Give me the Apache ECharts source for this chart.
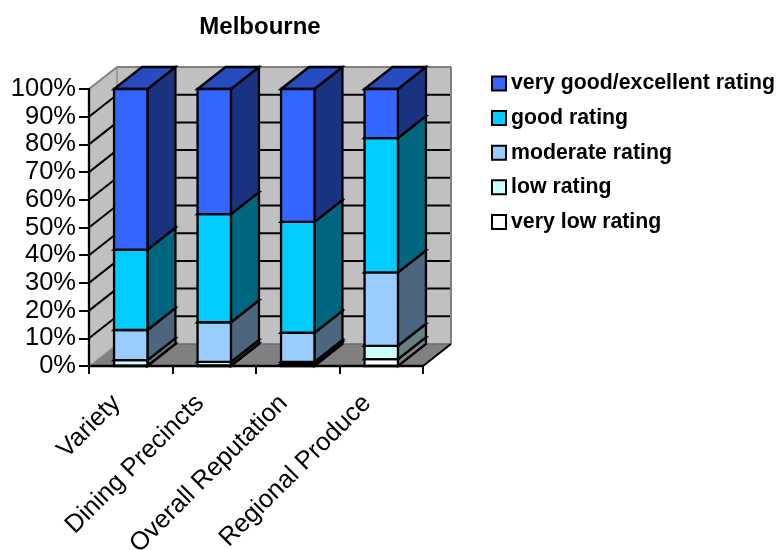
<!DOCTYPE html>
<html>
<head>
<meta charset="utf-8">
<style>html,body{margin:0;padding:0;background:#fff}#chart{width:777px;height:550px}</style>
<script src="https://cdn.jsdelivr.net/npm/echarts@6/dist/echarts.min.js"></script>
</head>
<body>
<div id="chart"></div>
<script>
// Share of ratings per food-and-wine attribute, in percent.
const categories = ['Variety', 'Dining Precincts', 'Overall Reputation', 'Regional Produce'];
const veryLow = [0.1, 0.2, 0.8, 2.5];
const low = [2.0, 1.3, 0.7, 4.8];
const moderate = [10.9, 14.3, 10.5, 26.5];
const good = [29, 39, 40, 48.5];
const veryGood = [58, 45.2, 48, 17.7];
const yTicks = [0, 10, 20, 30, 40, 50, 60, 70, 80, 90, 100];

// Oblique depth of the box, in pixels.
const DEPTH_X = 28;
const DEPTH_Y = -22;
const BAR_WIDTH = 0.4;
const EDGE = 2.3;

const ratings = [
  { name: 'very low rating', values: veryLow, front: '#FFFFFF', side: '#808080', top: '#BFBFBF' },
  { name: 'low rating', values: low, front: '#CCFFFF', side: '#668080', top: '#99BFBF' },
  { name: 'moderate rating', values: moderate, front: '#99CCFF', side: '#4D6680', top: '#7399BF' },
  { name: 'good rating', values: good, front: '#00CCFF', side: '#006680', top: '#0099BF' },
  { name: 'very good/excellent rating', values: veryGood, front: '#3366FF', side: '#1A3380', top: '#264CBF' }
];

function poly(points, fill, stroke, width) {
  return {
    type: 'polygon',
    shape: { points },
    style: { fill, stroke: stroke || 'none', lineWidth: width || 0, lineJoin: 'miter' }
  };
}
function line(a, b, stroke, width) {
  return {
    type: 'line',
    shape: { x1: a[0], y1: a[1], x2: b[0], y2: b[1] },
    style: { stroke, lineWidth: width }
  };
}

// Back wall, side wall, floor and their gridlines.
function renderBox(params, api) {
  const g = params.coordSys;
  const L = g.x, R = g.x + g.width;
  const y0 = api.coord([0, 0])[1], y1 = api.coord([0, 100])[1];
  const bx = DEPTH_X, by = DEPTH_Y;
  const kids = [
    poly([[L, y1], [L + bx, y1 + by], [L + bx, y0 + by], [L, y0]], '#C0C0C0'),
    poly([[L + bx, y1 + by], [R + bx, y1 + by], [R + bx, y0 + by], [L + bx, y0 + by]], '#C0C0C0'),
    poly([[L, y0], [L + bx, y0 + by], [R + bx, y0 + by], [R, y0]], '#808080')
  ];
  yTicks.forEach(function (t) {
    const y = api.coord([0, t])[1];
    if (t === 0 || t === 100) return;
    kids.push(line([L, y], [L + bx, y + by], '#000', 2));
    kids.push(line([L + bx, y + by], [R + bx, y + by], '#000', 2));
  });
  kids.push(line([L, y1], [L + bx, y1 + by], '#808080', 2));
  kids.push(line([L + bx, y1 + by], [R + bx, y1 + by], '#808080', 2));
  kids.push(line([L + bx, y1 + by], [L + bx, y0 + by], '#808080', 1.2));
  kids.push(line([R + bx, y1 + by], [R + bx, y0 + by], '#808080', 2));
  kids.push(line([L + bx, y0 + by], [R + bx, y0 + by], '#6a6a6a', 1.5));
  kids.push(line([L, y0], [L + bx, y0 + by], '#9a9a9a', 1));
  kids.push(line([R, y0], [R + bx, y0 + by], '#000', 2));
  return { type: 'group', children: kids };
}

// One stacked block: front face, right side and top.
function blockRenderer(rating) {
  return function (params, api) {
    const bw = api.size([1, 0])[0] * BAR_WIDTH;
    const c0 = api.coord([api.value(0), api.value(1)]);
    const c1 = api.coord([api.value(0), api.value(2)]);
    const xl = c0[0] - bw / 2, xr = c0[0] + bw / 2;
    const yb = c0[1], yt = c1[1];
    const stroke = '#000';
    return {
      type: 'group',
      children: [
        poly([[xr, yb], [xr + DEPTH_X, yb + DEPTH_Y], [xr + DEPTH_X, yt + DEPTH_Y], [xr, yt]], rating.side, stroke, EDGE),
        poly([[xl, yt], [xl + DEPTH_X, yt + DEPTH_Y], [xr + DEPTH_X, yt + DEPTH_Y], [xr, yt]], rating.top, stroke, EDGE),
        poly([[xl, yb], [xr, yb], [xr, yt], [xl, yt]], rating.front, stroke, EDGE)
      ]
    };
  };
}

const totals = categories.map(function () { return 0; });
const blockSeries = ratings.map(function (rating) {
  const data = rating.values.map(function (v, i) {
    const start = totals[i];
    totals[i] += v;
    return [i, start, totals[i]];
  });
  return {
    name: rating.name,
    type: 'custom',
    coordinateSystem: 'cartesian2d',
    renderItem: blockRenderer(rating),
    encode: { x: 0, y: [1, 2] },
    clip: false,
    silent: true,
    z: 3,
    itemStyle: { color: rating.front, borderColor: '#000', borderWidth: 2.4 },
    data
  };
});

const chart = echarts.init(document.getElementById('chart'), null, { renderer: 'canvas' });
chart.setOption({
  animation: false,
  backgroundColor: '#fff',
  textStyle: { fontFamily: '"Liberation Sans", Arial, sans-serif' },
  title: {
    text: 'Melbourne',
    left: 255,
    top: 10,
    textAlign: 'center',
    textStyle: { fontFamily: '"Liberation Sans"', fontSize: 24, fontWeight: 'bold', color: '#000' }
  },
  legend: {
    orient: 'vertical',
    left: 491,
    top: 73,
    itemWidth: 14,
    itemHeight: 14,
    itemGap: 13.6,
    padding: 0,
    icon: 'rect',
    selectedMode: false,
    data: ratings.slice().reverse().map(function (r) { return r.name; }),
    textStyle: { fontFamily: '"Liberation Sans"', fontSize: 21.3, fontWeight: 'bold', color: '#000' }
  },
  grid: { left: 89, right: 354, top: 89, bottom: 184, outerBoundsMode: 'none' },
  xAxis: {
    type: 'category',
    data: categories,
    z: 10,
    axisLine: { lineStyle: { color: '#000', width: 2.3 } },
    axisTick: { show: true, length: 8, lineStyle: { color: '#000', width: 2 } },
    axisLabel: {
      interval: 0,
      rotate: 45,
      margin: 19,
      padding: [0, 20, 0, 0],
      hideOverlap: false,
      fontFamily: '"Liberation Sans"',
      fontSize: 25.5,
      color: '#000'
    }
  },
  yAxis: {
    type: 'value',
    min: 0,
    max: 100,
    interval: 10,
    z: 10,
    splitLine: { show: false },
    axisLine: { show: true, lineStyle: { color: '#000', width: 2.3 } },
    axisTick: { show: true, length: 10, lineStyle: { color: '#000', width: 2 } },
    axisLabel: {
      formatter: '{value}%',
      margin: 13,
      fontFamily: '"Liberation Sans"',
      fontSize: 25.5,
      color: '#000'
    }
  },
  series: [
    {
      type: 'custom',
      coordinateSystem: 'cartesian2d',
      renderItem: renderBox,
      encode: { x: 0, y: 1 },
      clip: false,
      silent: true,
      z: 1,
      data: [[0, 0]]
    }
  ].concat(blockSeries)
});
</script>
</body>
</html>
